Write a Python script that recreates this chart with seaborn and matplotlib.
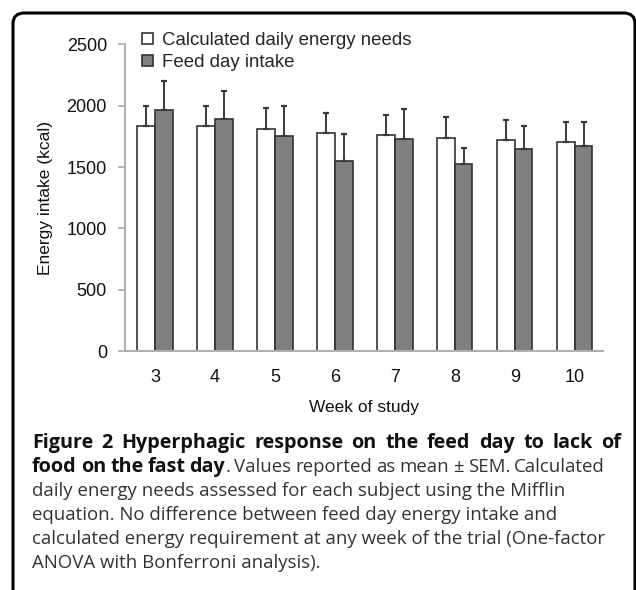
import numpy as np
import pandas as pd
import matplotlib
matplotlib.use("Agg")
import matplotlib.pyplot as plt
import seaborn as sns
from matplotlib.patches import FancyBboxPatch

weeks = ["3", "4", "5", "6", "7", "8", "9", "10"]
needs = [1836, 1836, 1814, 1781, 1762, 1740, 1724, 1705]
needs_sem = [162, 162, 164, 161, 161, 167, 158, 161]
feed = [1965, 1892, 1757, 1552, 1729, 1522, 1645, 1672]
feed_sem = [235, 225, 240, 218, 241, 137, 188, 196]
series = ["Calculated daily energy needs", "Feed day intake"]

df = pd.DataFrame({
    "week": weeks * 2,
    "kcal": needs + feed,
    "series": [series[0]] * len(weeks) + [series[1]] * len(weeks),
})

sns.set_style("white")
plt.rcParams["font.family"] = ["Liberation Sans", "DejaVu Sans"]

fig = plt.figure(figsize=(6.36, 5.90), dpi=100)
ax = fig.add_axes([0.1965, 0.4046, 0.7515, 0.5203])

sns.barplot(data=df, x="week", y="kcal", hue="series", order=weeks,
            hue_order=series, palette=["white", "#808080"],
            edgecolor="#333333", linewidth=1.2, width=0.59,
            errorbar=None, ax=ax)

# error bars (upper only)
for cont, sem in zip(ax.containers, [needs_sem, feed_sem]):
    xs = [b.get_x() + b.get_width() / 2 for b in cont.patches]
    hs = [b.get_height() for b in cont.patches]
    ax.errorbar(xs, hs, yerr=[np.zeros(len(sem)), sem], fmt="none",
                ecolor="#3a3a3a", elinewidth=1.4, capsize=2.5, capthick=1.6)

ax.set_ylim(0, 2500)
ax.set_xlim(-0.5, 7.47)
ax.set_yticks([0, 500, 1000, 1500, 2000, 2500])
ax.set_xlabel("Week of study", fontsize=12.5, color="#111111", labelpad=10)
ax.set_ylabel("Energy intake (kcal)", fontsize=12.5, color="#111111", labelpad=10)
ax.tick_params(axis="y", left=True, length=5, width=1.2, color="#aaaaaa",
               labelsize=13, labelcolor="#111111", pad=8)
ax.tick_params(axis="x", bottom=False, labelsize=13, labelcolor="#111111", pad=9)
for s in ["top", "right"]:
    ax.spines[s].set_visible(False)
for s in ["left", "bottom"]:
    ax.spines[s].set_color("#b0b0b0")
    ax.spines[s].set_linewidth(1.5)

leg = ax.legend(loc="upper left", bbox_to_anchor=(0.2237, 0.9457),
                bbox_transform=fig.transFigure, frameon=False, fontsize=13.4,
                handlelength=0.6, handleheight=0.6, handletextpad=0.45,
                labelspacing=0.27, borderpad=0, borderaxespad=0)
for h in leg.legend_handles:
    h.set_edgecolor("#333333")

# frame round the figure
frame = FancyBboxPatch((13 / 636, -0.1), 622 / 636, 1.1 - 13 / 590,
                       boxstyle="round,pad=0,rounding_size=0.018",
                       transform=fig.transFigure, fill=False,
                       edgecolor="black", linewidth=2.2, clip_on=False)
fig.patches.append(frame)

# caption
cap_font = ["Open Sans", "DejaVu Sans"]
bold_size = 14.2
reg_size = 13.4
W = fig.bbox.width
x0 = 32
ys = [443, 467, 491, 515, 539, 563]
yf = [1 - y / 590 for y in ys]
fig.canvas.draw()
rend = fig.canvas.get_renderer()


def put(x_px, y, s, bold):
    return fig.text(x_px / W, y, s, fontsize=bold_size if bold else reg_size,
                    fontweight="bold" if bold else "normal", family=cap_font,
                    va="center", color="#111111" if bold else "#333333")


def justified(y, tokens, right_px):
    # tokens: (text, bold, gap_before)
    arts = [put(0, y, t, b) for t, b, _ in tokens]
    widths = [a.get_window_extent(rend).width for a in arts]
    n_gaps = sum(1 for _, _, g in tokens if g)
    gap = (right_px - x0 - sum(widths)) / max(n_gaps, 1)
    x = x0
    for a, w, (_, _, g) in zip(arts, widths, tokens):
        if g:
            x += gap
        a.set_x(x / W)
        x += w


line1 = "Figure 2 Hyperphagic response on the feed day to lack of".split()
justified(yf[0], [(w, True, i > 0) for i, w in enumerate(line1)], 621)

line2_bold = "food on the fast day".split()
line2_reg = "Values reported as mean \u00b1 SEM. Calculated".split()
tokens2 = [(w, True, i > 0) for i, w in enumerate(line2_bold)]
tokens2.append((".", False, False))
tokens2 += [(w, False, True) for w in line2_reg]
justified(yf[1], tokens2, 605)

rest = [
    "daily energy needs assessed for each subject using the Mifflin",
    "equation. No difference between feed day energy intake and",
    "calculated energy requirement at any week of the trial (One-factor",
    "ANOVA with Bonferroni analysis).",
]
for y, line in zip(yf[2:], rest):
    put(x0, y, line, False)

fig.savefig("out.png", dpi=100)
